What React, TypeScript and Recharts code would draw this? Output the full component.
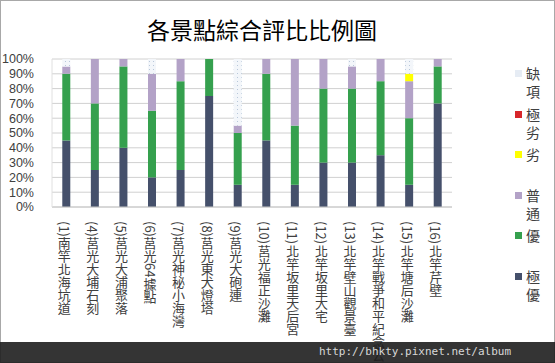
import React from 'react';
import { BarChart, Bar, XAxis, YAxis, CartesianGrid, Legend } from 'recharts';

const categories = ['(1)南竿北海坑道', '(4)莒光大埔石刻', '(5)莒光大浦聚落', '(6)莒光64據點', '(7)莒光神秘小海灣', '(8)莒光東犬燈塔', '(9)莒光大砲連', '(10)莒光福正沙灘', '(11)北竿坂里天后宮', '(12)北竿坂里大宅', '(13)北竿壁山觀景臺', '(14)北竿戰爭和平紀念公園', '(15)北竿塘后沙灘', '(16)北竿芹壁'];
const excellent = [45, 25, 40, 20, 25, 75, 15, 45, 15, 30, 30, 35, 15, 70];
const good = [45, 45, 55, 45, 60, 25, 35, 45, 40, 50, 50, 50, 45, 25];
const fair = [5, 30, 5, 25, 15, 0, 5, 10, 45, 20, 15, 15, 25, 5];
const poor = [0, 0, 0, 0, 0, 0, 0, 0, 0, 0, 0, 0, 5, 0];
const veryPoor = [0, 0, 0, 0, 0, 0, 0, 0, 0, 0, 0, 0, 0, 0];
const missing = [5, 0, 0, 10, 0, 0, 45, 0, 0, 0, 5, 0, 10, 0];
const yTicks = [0, 10, 20, 30, 40, 50, 60, 70, 80, 90, 100];

const series = [
  { key: 'excellent', name: '極優', values: excellent, color: '#45506B' },
  { key: 'good', name: '優', values: good, color: '#35A04E' },
  { key: 'fair', name: '普通', values: fair, color: '#B3A2C7' },
  { key: 'poor', name: '劣', values: poor, color: '#FFFF00' },
  { key: 'veryPoor', name: '極劣', values: veryPoor, color: '#D7262B' },
  { key: 'missing', name: '缺項', values: missing, color: 'url(#dotPattern)' },
];

const data = categories.map((c, i) => {
  const row: any = { name: c };
  series.forEach((s) => { row[s.key] = s.values[i]; });
  return row;
});

const CJK = '"Noto Sans CJK TC", "Noto Sans", sans-serif';

const XTick = (props: any) => {
  const { x, y, payload } = props;
  return (
    <text x={x - 2} y={y + 6} style={{ writingMode: 'vertical-rl' as any }} fontSize={13} fill="#404040" fontFamily={CJK}>
      {payload.value}
    </text>
  );
};

const LegendContent = () => {
  const items = [...series].reverse();
  return (
    <div style={{ width: 40 }}>
      {items.map((s) => (
        <div key={s.key} style={{ height: 40.6, display: 'flex', alignItems: 'flex-start' }}>
          <div style={{ width: 7, height: 7, marginTop: 6, marginRight: 4, background: s.key === 'missing' ? '#E6ECF4' : s.color }} />
          <div style={{ width: 15, fontSize: 14, lineHeight: '18px', color: '#404040', fontFamily: CJK, wordBreak: 'break-all' }}>{s.name}</div>
        </div>
      ))}
    </div>
  );
};

export default function App() {
  return (
    <div style={{ position: 'absolute', left: 0, top: 0, width: 555, height: 363, background: '#fff', overflow: 'hidden' }}>
      <svg width={0} height={0} style={{ position: 'absolute' }}>
        <defs>
          <pattern id="dotPattern" width={4} height={4} patternUnits="userSpaceOnUse">
            <rect width={4} height={4} fill="#F3F6FA" />
            <rect x={1} y={1} width={1} height={1} fill="#B8C7DA" />
          </pattern>
        </defs>
      </svg>
      <div style={{ position: 'absolute', left: 0, top: 0, width: 555, height: 363, boxSizing: 'border-box', border: '1px solid #a8a8a8' }} />
      <div style={{ position: 'absolute', left: 0, top: 12, width: 524, textAlign: 'center', fontSize: 23, fontFamily: CJK, color: '#000' }}>各景點綜合評比比例圖</div>
      <div style={{ position: 'absolute', left: 0, top: 0 }}>
        <BarChart width={555} height={363} data={data} margin={{ top: 59, right: 63, left: 0, bottom: 0 }} barCategoryGap="36%">
          <CartesianGrid vertical={false} stroke="#d0d0d0" />
          <XAxis dataKey="name" tick={<XTick />} interval={0} height={156} tickLine={false} axisLine={{ stroke: '#c8c8c8' }} />
          <YAxis domain={[0, 100]} ticks={yTicks} interval={0} tickFormatter={(v: number) => v + '%'} width={52} tickLine={false} axisLine={{ stroke: '#e0e0e0' }} tick={{ fontSize: 12.5, fill: '#404040', fontFamily: 'Liberation Sans, Arial' }} tickMargin={12} />
          {series.map((s) => (
            <Bar key={s.key} dataKey={s.key} name={s.name} stackId="a" fill={s.color} isAnimationActive={false} />
          ))}
          <Legend layout="vertical" verticalAlign="top" align="right" content={<LegendContent />} wrapperStyle={{ position: 'absolute', left: 515, top: 64, width: 40 }} />
        </BarChart>
      </div>
      <div style={{ position: 'absolute', left: 0, top: 342, width: 555, height: 21, background: 'rgba(30,30,30,0.9)' }} />
      <div style={{ position: 'absolute', left: 319, top: 344, fontSize: 11, fontFamily: '"DejaVu Sans Mono", monospace', color: '#d8d8d8', lineHeight: '16px' }}>http://bhkty.pixnet.net/album</div>
    </div>
  );
}
